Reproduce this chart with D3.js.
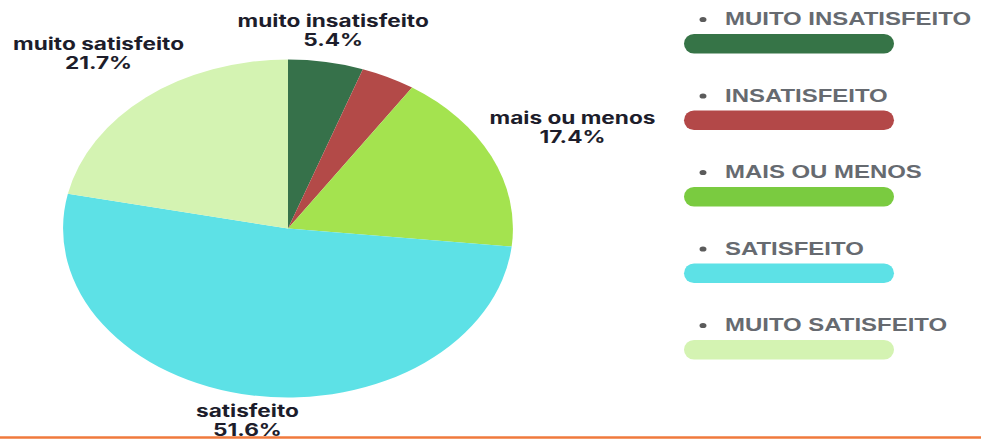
<!DOCTYPE html>
<meta charset="utf-8">
<script src="https://d3js.org/d3.v7.min.js"></script>

<style>
  body {
    margin: 0;
    background: #fff;
  }

  .slice-label {
    font-family: Inter, "Noto Sans", sans-serif;
    font-weight: 700;
    font-size: 17px;
    fill: #1d1d2b;
  }

  .legend-text {
    font-family: "Liberation Sans", Arial, sans-serif;
    font-weight: 700;
    font-size: 18px;
    fill: #666a70;
  }
</style>

<body>
  <div id="chart"></div>

  <script>
    // data
    const categories = ["muito insatisfeito", "insatisfeito", "mais ou menos", "satisfeito", "muito satisfeito"];
    const values = [5.4, 3.9, 17.4, 51.6, 21.7];
    const legendLabels = ["MUITO INSATISFEITO", "INSATISFEITO", "MAIS OU MENOS", "SATISFEITO", "MUITO SATISFEITO"];
    const pieColors = ["#36714a", "#b34a48", "#a4e34f", "#5de1e6", "#d4f3b2"];
    const legendColors = ["#367447", "#b34848", "#7acb40", "#5de1e6", "#d4f3b2"];

    let width = 981,
        height = 442,
        sx = 1.331,          // the whole picture is stretched sideways
        radius = 169,
        labelMin = 5,        // slices below this get no label
        gap = 4;

    const svg = d3.select("#chart")
      .append("svg")
      .attr("width", width)
      .attr("height", height);

    // white background
    svg.append("rect")
      .attr("width", width)
      .attr("height", height)
      .attr("fill", "#fff");

    const root = svg.append("g").attr("transform", `scale(${sx},1)`);

    // pie
    const pie = d3.pie().sort(null).value(d => d);
    const arc = d3.arc().innerRadius(0).outerRadius(radius);
    const arcs = pie(values);

    const g = root.append("g")
      .attr("transform", `translate(${288 / sx},228.5)`);

    g.selectAll("path.slice")
      .data(arcs)
      .enter()
      .append("path")
      .attr("class", "slice")
      .attr("d", arc)
      .attr("fill", (d, i) => pieColors[i]);

    // outside labels, pushed out along the mid angle until the box clears the pie
    const labels = g.selectAll("text.slice-label")
      .data(arcs.filter(d => d.value >= labelMin))
      .enter()
      .append("text")
      .attr("class", "slice-label")
      .attr("text-anchor", "middle");

    labels.append("tspan")
      .attr("x", 0)
      .attr("y", -3.5)
      .text(d => categories[d.index]);
    labels.append("tspan")
      .attr("x", 0)
      .attr("y", 15.5)
      .text(d => d3.format(".1f")(d.value) + "%");

    labels.attr("transform", function(d) {
      const mid = (d.startAngle + d.endAngle) / 2,
            s = Math.sin(mid),
            c = -Math.cos(mid),
            w = d3.max(d3.select(this).selectAll("tspan").nodes(), n => n.getComputedTextLength()),
            h = 32;
      const dist = radius + gap + Math.abs(s) * w / 2 + Math.abs(c) * h / 2;
      return `translate(${s * dist},${c * dist})`;
    });

    // legend
    const y = d3.scalePoint()
      .domain(categories)
      .range([25, 331]);

    const legend = root.append("g").attr("class", "legend");

    const item = legend.selectAll("g.item")
      .data(categories)
      .enter()
      .append("g")
      .attr("class", "item")
      .attr("transform", d => `translate(0,${y(d)})`);

    item.append("circle")
      .attr("cx", 703 / sx)
      .attr("cy", -5.5)
      .attr("r", 2.6)
      .attr("fill", "#5b5b5b");

    item.append("text")
      .attr("class", "legend-text")
      .attr("x", 725 / sx)
      .attr("y", 0)
      .text((d, i) => legendLabels[i]);

    item.append("rect")
      .attr("x", 684 / sx)
      .attr("y", 9)
      .attr("width", 210 / sx)
      .attr("height", 19.5)
      .attr("rx", 10 / sx)
      .attr("ry", 9.75)
      .attr("fill", (d, i) => legendColors[i]);

    // orange rule at the bottom
    svg.append("line")
      .attr("x1", 0)
      .attr("x2", width)
      .attr("y1", 437.5)
      .attr("y2", 437.5)
      .attr("stroke", "#f07a3c")
      .attr("stroke-width", 2.5);
  </script>
</body>
